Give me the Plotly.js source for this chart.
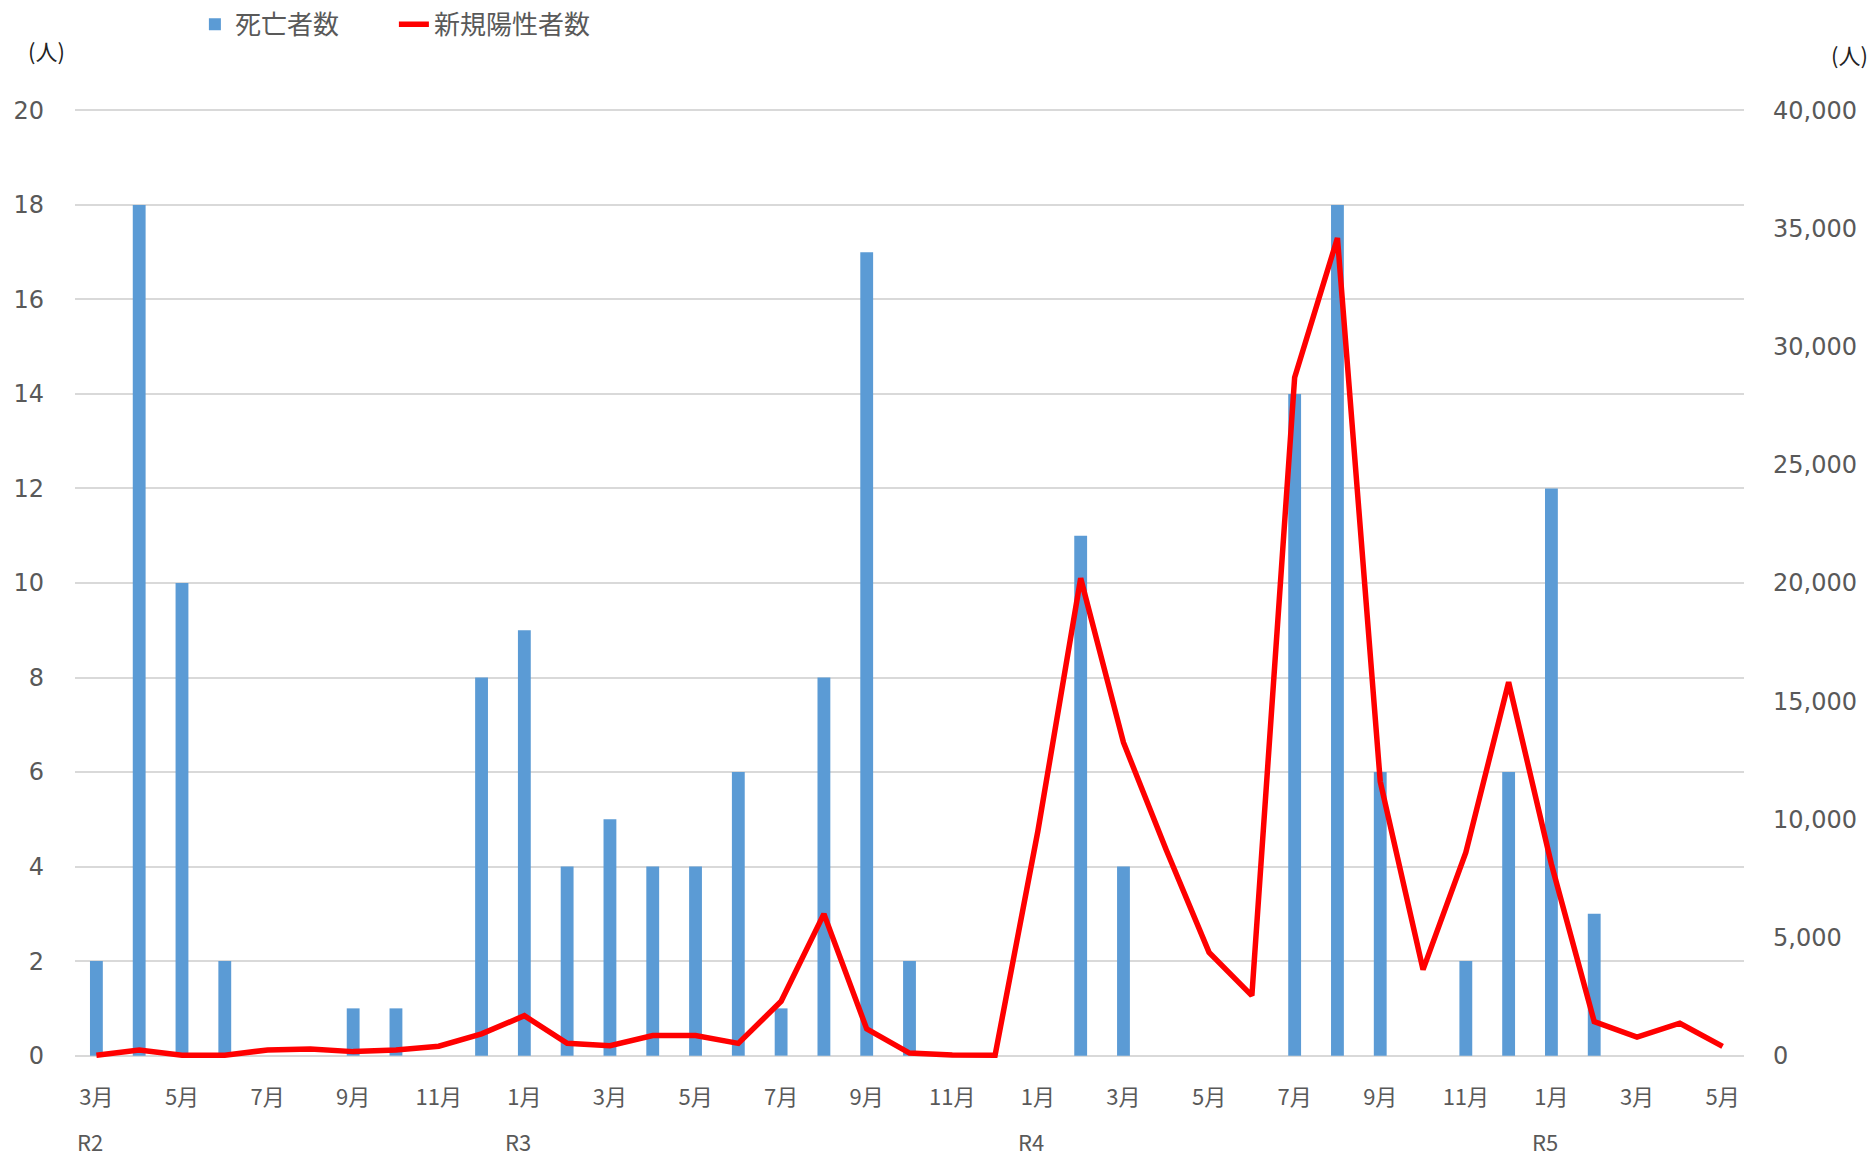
<!DOCTYPE html>
<html>
<head>
<meta charset="utf-8">
<script src="https://cdn.plot.ly/plotly-3.0.1.min.js"></script>
<style>
  html, body { margin: 0; padding: 0; background: #ffffff; }
  #chart { width: 1874px; height: 1157px; }
</style>
</head>
<body>
<div id="chart"></div>
<script>
// Months (category keys), March 2020 (R2) to May 2023 (R5)
const months = [
  "2020-03","2020-04","2020-05","2020-06","2020-07","2020-08","2020-09","2020-10","2020-11","2020-12",
  "2021-01","2021-02","2021-03","2021-04","2021-05","2021-06","2021-07","2021-08","2021-09","2021-10","2021-11","2021-12",
  "2022-01","2022-02","2022-03","2022-04","2022-05","2022-06","2022-07","2022-08","2022-09","2022-10","2022-11","2022-12",
  "2023-01","2023-02","2023-03","2023-04","2023-05"
];

// 死亡者数 (left axis, 人)
const deaths = [
  2, 18, 10, 2, 0, 0, 1, 1, 0, 8,
  9, 4, 5, 4, 4, 6, 1, 8, 17, 2, 0, 0,
  0, 11, 4, 0, 0, 0, 14, 18, 6, 0, 2, 6,
  12, 3, 0, 0, 0
];

// 新規陽性者数 (right axis, 人)
const positives = [
  20, 240, 20, 20, 240, 280, 170, 240, 400, 920,
  1690, 520, 420, 850, 850, 520, 2300, 6000, 1130, 110, 30, 20,
  9500, 20200, 13250, 8700, 4370, 2540, 28700, 34600, 11600, 3640, 8600, 15800,
  8100, 1440, 780, 1370, 395
];

// Tick labels on the category axis
const tickKeys = months.filter((m, i) => i % 2 === 0);
const tickLabels = ["3月","5月","7月","9月","11月","1月","3月","5月","7月","9月","11月",
                    "1月","3月","5月","7月","9月","11月","1月","3月","5月"];

// Era labels (令和) and the month they start at
const eraLabels = ["R2", "R3", "R4", "R5"];
const eraStarts = ["2020-03", "2021-01", "2022-01", "2023-01"];

const gray = "#595959";
const monthFont = "'Liberation Sans Narrow', 'Noto Sans CJK JP', sans-serif";
const numFont = "'DejaVu Sans', sans-serif";
const cjkFont = "'Noto Sans CJK JP', sans-serif";

const traces = [
  {
    type: "bar",
    name: "死亡者数",
    x: months,
    y: deaths,
    width: 0.3,
    marker: { color: "#5B9BD5" },
    yaxis: "y",
    hoverinfo: "x+y"
  },
  {
    type: "scatter",
    mode: "lines",
    name: "新規陽性者数",
    x: months,
    y: positives,
    line: { color: "#FF0000", width: 5.5 },
    yaxis: "y2",
    hoverinfo: "x+y"
  }
];

const nCat = months.length;
const annotations = eraLabels.map((t, i) => ({
  text: t,
  x: months.indexOf(eraStarts[i]) / nCat,
  xref: "paper",
  xanchor: "left",
  y: -0.0874,
  yref: "paper",
  yanchor: "middle",
  showarrow: false,
  font: { family: monthFont, size: 22, color: gray }
}));

annotations.push({
  text: "(人)", xref: "paper", yref: "paper",
  x: -0.0168, y: 1.061, xanchor: "center", yanchor: "middle",
  showarrow: false, font: { family: cjkFont, size: 22, color: "#222222" }
});
annotations.push({
  text: "(人)", xref: "paper", yref: "paper",
  x: 1.0635, y: 1.0568, xanchor: "center", yanchor: "middle",
  showarrow: false, font: { family: cjkFont, size: 22, color: "#222222" }
});

const layout = {
  width: 1874,
  height: 1157,
  margin: { l: 75, r: 130, t: 108, b: 99 },
  paper_bgcolor: "#ffffff",
  plot_bgcolor: "#ffffff",
  showlegend: true,
  legend: {
    orientation: "h",
    xref: "container", yref: "container",
    x: 0.104, y: 0.979,
    xanchor: "left", yanchor: "middle",
    font: { family: cjkFont, size: 26, color: gray },
    entrywidth: 154,
    entrywidthmode: "pixels",
    traceorder: "normal"
  },
  xaxis: {
    type: "category",
    categoryorder: "array",
    categoryarray: months,
    tickmode: "array",
    tickvals: tickKeys,
    ticktext: tickLabels,
    showgrid: false,
    zeroline: false,
    showline: false,
    ticks: "",
    ticklabelstandoff: 24,
    tickangle: 0,
    tickfont: { family: monthFont, size: 22, color: gray },
    fixedrange: true
  },
  yaxis: {
    range: [-0.05, 20.05],
    tickmode: "linear",
    tick0: 0,
    dtick: 2,
    showgrid: true,
    gridcolor: "#D9D9D9",
    gridwidth: 1.5,
    zeroline: false,
    showline: false,
    ticks: "",
    ticklabelstandoff: 30,
    tickfont: { family: numFont, size: 24, color: gray }
  },
  yaxis2: {
    overlaying: "y",
    side: "right",
    range: [-100, 40100],
    tickmode: "linear",
    tick0: 0,
    dtick: 5000,
    tickformat: ",d",
    showgrid: false,
    zeroline: false,
    showline: false,
    ticks: "",
    ticklabelstandoff: 28,
    tickfont: { family: numFont, size: 24, color: gray }
  },
  annotations: annotations
};

Plotly.newPlot("chart", traces, layout, { displayModeBar: false, responsive: false });
</script>
</body>
</html>
